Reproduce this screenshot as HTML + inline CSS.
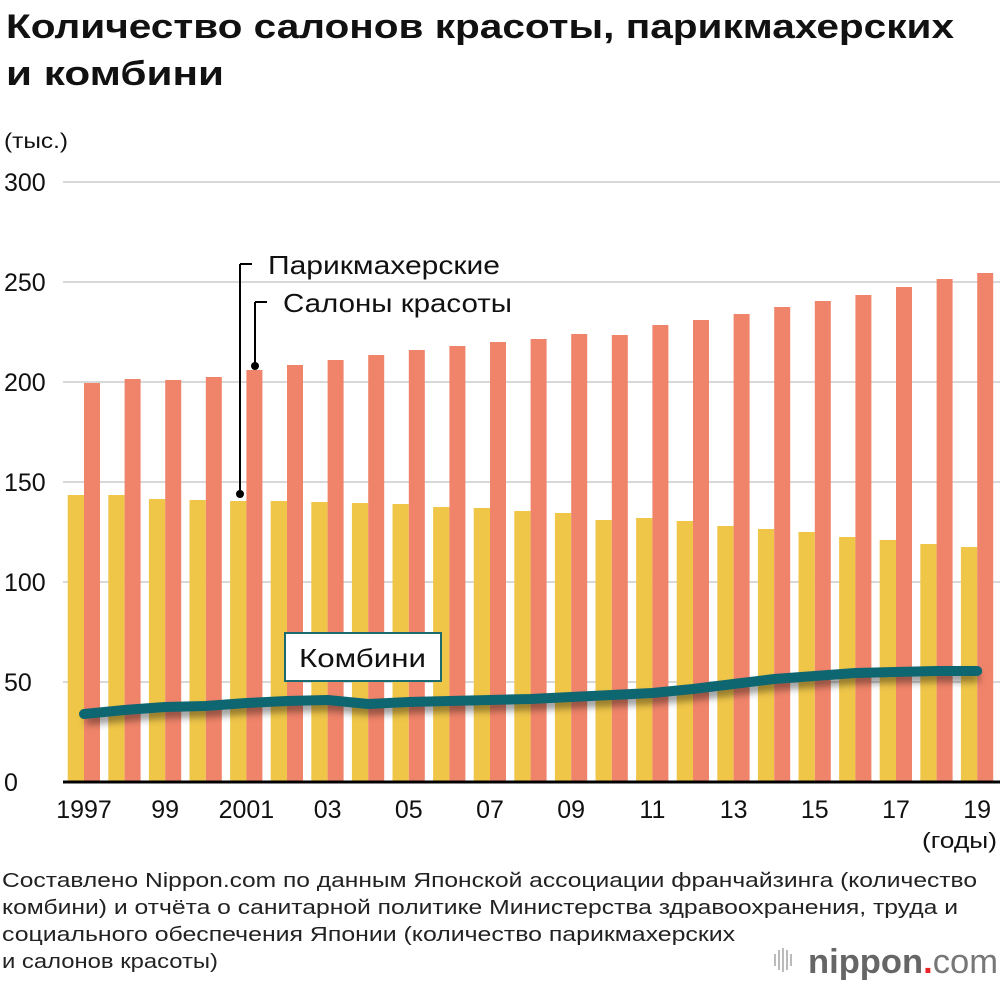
<!DOCTYPE html>
<html><head><meta charset="utf-8">
<style>
body{margin:0;background:#fff;width:1000px;height:984px;overflow:hidden;font-family:"Liberation Sans","DejaVu Sans",sans-serif;}
</style></head><body>
<svg width="1000" height="984" viewBox="0 0 1000 984" xmlns="http://www.w3.org/2000/svg" font-family="Liberation Sans, DejaVu Sans, sans-serif">
<defs><filter id="sh" x="-10%" y="-50%" width="120%" height="250%"><feGaussianBlur stdDeviation="4"/></filter></defs>
<text x="6" y="38" font-size="34" font-weight="bold" fill="#111" textLength="948" lengthAdjust="spacingAndGlyphs">Количество салонов красоты, парикмахерских</text>
<text x="6" y="85" font-size="34" font-weight="bold" fill="#111" textLength="218" lengthAdjust="spacingAndGlyphs">и комбини</text>
<text x="4" y="148" font-size="21" fill="#111" textLength="64" lengthAdjust="spacingAndGlyphs">(тыс.)</text>
<g id="grid"></g>
<g id="bars"></g>
<g id="line"></g>
<g id="xaxis"></g>
<line x1="240" y1="264" x2="240" y2="494" stroke="#000" stroke-width="2"/>
<line x1="240" y1="264" x2="252" y2="264" stroke="#000" stroke-width="2"/>
<circle cx="240" cy="494" r="4" fill="#000"/>
<text x="268" y="274" font-size="26" fill="#111" textLength="232" lengthAdjust="spacingAndGlyphs">Парикмахерские</text>
<line x1="255" y1="302" x2="255" y2="366" stroke="#000" stroke-width="2"/>
<line x1="255" y1="302" x2="267" y2="302" stroke="#000" stroke-width="2"/>
<circle cx="255" cy="366" r="4" fill="#000"/>
<text x="283" y="312" font-size="26" fill="#111" textLength="229" lengthAdjust="spacingAndGlyphs">Салоны красоты</text>
<rect x="285" y="633" width="156" height="48" fill="#fff" stroke="#1a6a70" stroke-width="2"/>
<text x="299" y="667" font-size="26" fill="#111" textLength="127" lengthAdjust="spacingAndGlyphs">Комбини</text>
<text x="922" y="848" font-size="22" fill="#111" textLength="75" lengthAdjust="spacingAndGlyphs">(годы)</text>
<g font-size="20" fill="#222">
<text x="2" y="887" textLength="975" lengthAdjust="spacingAndGlyphs">Составлено Nippon.com по данным Японской ассоциации франчайзинга (количество</text>
<text x="2" y="914" textLength="956" lengthAdjust="spacingAndGlyphs">комбини) и отчёта о санитарной политике Министерства здравоохранения, труда и</text>
<text x="2" y="941" textLength="733" lengthAdjust="spacingAndGlyphs">социального обеспечения Японии (количество парикмахерских</text>
<text x="2" y="968" textLength="216" lengthAdjust="spacingAndGlyphs">и салонов красоты)</text>
</g>
<g>
<g stroke="#aaa" stroke-width="1.6"><line x1="775" y1="954" x2="775" y2="966"/><line x1="779" y1="950" x2="779" y2="970"/><line x1="783" y1="948" x2="783" y2="972"/><line x1="787" y1="950" x2="787" y2="970"/><line x1="791" y1="954" x2="791" y2="966"/></g>
<text x="808" y="973" font-size="34" fill="#666" font-weight="bold" textLength="190" lengthAdjust="spacingAndGlyphs">nippon<tspan fill="#e8262a">.</tspan><tspan font-weight="normal" fill="#777">com</tspan></text>
</g>
</svg>
<script>
const years=[1997,1998,1999,2000,2001,2002,2003,2004,2005,2006,2007,2008,2009,2010,2011,2012,2013,2014,2015,2016,2017,2018,2019];
const yearLabels=["1997","","99","","2001","","03","","05","","07","","09","","11","","13","","15","","17","","19"];
const barbers=[143.5,143.5,141.5,141,140.5,140.5,140,139.5,139,137.5,137,135.5,134.5,131,132,130.5,128,126.5,125,122.5,121,119,117.5];
const salons=[199.5,201.5,201,202.5,206,208.5,211,213.5,216,218,220,221.5,224,223.5,228.5,231,234,237.5,240.5,243.5,247.5,251.5,254.5];
const konbini=[34,36,37.5,38,39.5,40.5,41,39,40,40.5,41,41.5,42.5,43.5,44.5,46.5,49,51.5,53,54.5,55,55.5,55.5];
const yTicks=[0,50,100,150,200,250,300];
const NS="http://www.w3.org/2000/svg";
function y(v){return 782-v*2;}
function xc(i){return 84+i*40.6;}
function mk(t,a){const e=document.createElementNS(NS,t);for(const k in a)e.setAttribute(k,a[k]);return e;}
const grid=document.getElementById('grid');
yTicks.forEach(v=>{
 if(v>0){const l=mk('line',{x1:63,x2:1000,y1:y(v),y2:y(v),stroke:'#ccc','stroke-width':1.5});
 
 
 grid.appendChild(l);}
 const t=mk('text',{x:4,y:y(v)+9,'font-size':25,fill:'#111'});t.textContent=v;
 
 
 grid.appendChild(t);
});
const bars=document.getElementById('bars');
years.forEach((yr,i)=>{
 const b=mk('rect',{x:xc(i)-16.3,y:y(barbers[i]),width:16.3,height:barbers[i]*2,fill:'#f0c649'});
 
 
 bars.appendChild(b);
 const s=mk('rect',{x:xc(i),y:y(salons[i]),width:16,height:salons[i]*2,fill:'#f0846a'});
 
 
 bars.appendChild(s);
});
const lg=document.getElementById('line');
const pts=konbini.map((v,i)=>xc(i)+','+y(v)).join(' ');
const sh=mk('polyline',{points:pts,fill:'none',stroke:'#000','stroke-opacity':0.45,'stroke-width':9,transform:'translate(2,6)',filter:'url(#sh)'});
lg.appendChild(sh);
const pl=mk('polyline',{points:pts,fill:'none',stroke:'#0e6670','stroke-width':10,'stroke-linecap':'round','stroke-linejoin':'round'});


lg.appendChild(pl);
const xa=document.getElementById('xaxis');
const base=mk('line',{x1:63,x2:1000,y1:782,y2:782,stroke:'#000','stroke-width':3});


xa.appendChild(base);
yearLabels.forEach((lb,i)=>{if(!lb)return;
 const t=mk('text',{x:xc(i),y:818,'font-size':25,fill:'#111','text-anchor':'middle'});t.textContent=lb;
 
 
 xa.appendChild(t);});
</script>
</body></html>
